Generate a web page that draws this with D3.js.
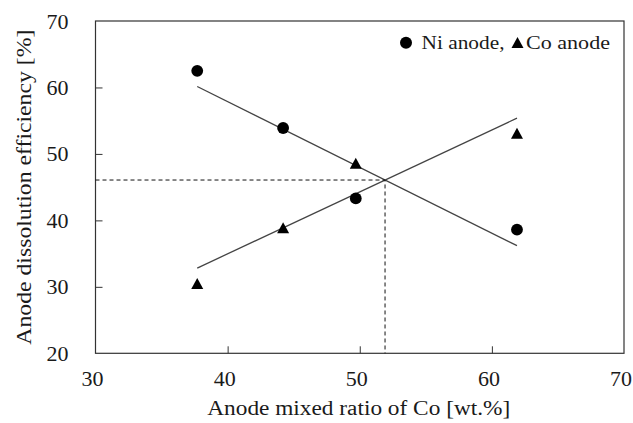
<!DOCTYPE html>
<html>
<head>
<meta charset="utf-8">
<script src="https://cdn.jsdelivr.net/npm/d3@7"></script>
<style>
  html, body { margin: 0; padding: 0; background: #fff; }
  svg { display: block; }
</style>
</head>
<body>
<div id="chart"></div>
<script>
// ---- data ----
const coRatio = [37.7, 44.2, 49.7, 61.9];          // Anode mixed ratio of Co [wt.%]
const niAnode = [62.5, 53.9, 43.3, 38.6];          // Ni anode dissolution efficiency [%]
const coAnode = [30.5, 38.9, 48.6, 53.1];          // Co anode dissolution efficiency [%]
const xTicks = [30, 40, 50, 60, 70];
const yTicks = [20, 30, 40, 50, 60, 70];
const xTitle = "Anode mixed ratio of Co [wt.%]";
const yTitle = "Anode dissolution efficiency [%]";
const legendLabels = ["Ni anode,", "Co anode"];

// ---- layout ----
const W = 633, H = 423;
const mLeft = 95.5, mRight = 624, mTop = 21, mBottom = 353.3;
const FONT = "Liberation Serif";
const INK = "#1a1a1a";

const svg = d3.select("#chart").append("svg").attr("width", W).attr("height", H);

const x = d3.scaleLinear().domain([30, 70]).range([mLeft, mRight]);
const y = d3.scaleLinear().domain([20, 70]).range([mBottom, mTop]);

// axes (ticks inward)
const gx = svg.append("g").attr("transform", `translate(0,${mBottom})`)
  .call(d3.axisBottom(x).tickValues(xTicks).tickSize(-7).tickPadding(17).tickFormat(d3.format("d")));
const gy = svg.append("g").attr("transform", `translate(${mLeft},0)`)
  .call(d3.axisLeft(y).tickValues(yTicks).tickSize(-7).tickPadding(27).tickFormat(d3.format("d")));
[gx, gy].forEach(g => {
  g.attr("font-family", null).attr("font-size", null);
  g.select(".domain").remove();
  g.selectAll(".tick line").attr("stroke", "#333").attr("stroke-width", 1);
  g.selectAll(".tick text").style("font-size", "22px").style("font-family", FONT).attr("fill", INK);
});
gx.selectAll(".tick text").attr("dx", -3.5);
gx.selectAll(".tick").filter(d => d === 30 || d === 70).select("line").remove();
gy.selectAll(".tick").filter(d => d === 20 || d === 70).select("line").remove();

// frame
svg.append("rect").attr("x", mLeft).attr("y", mTop)
  .attr("width", mRight - mLeft).attr("height", mBottom - mTop)
  .attr("fill", "none").attr("stroke", "#333").attr("stroke-width", 1.2);

// linear regression fits
function fit(xs, ys) {
  const mx = d3.mean(xs), my = d3.mean(ys);
  const sxy = d3.sum(xs, (v, i) => (v - mx) * (ys[i] - my));
  const sxx = d3.sum(xs, v => (v - mx) * (v - mx));
  const b = sxy / sxx, a = my - b * mx;
  return { a, b };
}
const fNi = fit(coRatio, niAnode);
const fCo = fit(coRatio, coAnode);
const xExt = d3.extent(coRatio);
const line = d3.line().x(d => x(d[0])).y(d => y(d[1]));
[fNi, fCo].forEach(f => {
  svg.append("path")
    .attr("d", line(xExt.map(v => [v, f.a + f.b * v])))
    .attr("fill", "none").attr("stroke", "#444").attr("stroke-width", 1.3);
});

// intersection and dashed guide lines
const xi = (fCo.a - fNi.a) / (fNi.b - fCo.b);
const yi = fNi.a + fNi.b * xi;
svg.append("path")
  .attr("d", line([[30, yi], [xi, yi], [xi, 20]]))
  .attr("fill", "none").attr("stroke", "#111").attr("stroke-width", 1)
  .attr("stroke-dasharray", "4,3");

// markers
const triPath = (w, h) => `M0,${-h / 2}L${w / 2},${h / 2}L${-w / 2},${h / 2}Z`;
svg.append("g").selectAll("circle").data(coRatio).join("circle")
  .attr("cx", d => x(d)).attr("cy", (d, i) => y(niAnode[i])).attr("r", 5.9).attr("fill", "#000");
svg.append("g").selectAll("path").data(coRatio).join("path")
  .attr("d", triPath(12, 11))
  .attr("transform", (d, i) => `translate(${x(d)},${y(coAnode[i])})`).attr("fill", "#000");

// legend
const lg = svg.append("g");
lg.append("circle").attr("cx", 406).attr("cy", 42.7).attr("r", 6).attr("fill", "#000");
lg.append("text").attr("x", 421.5).attr("y", 48.5)
  .style("font-family", FONT).style("font-size", "18px").attr("fill", INK)
  .attr("textLength", 83).attr("lengthAdjust", "spacingAndGlyphs").text(legendLabels[0]);
lg.append("path").attr("d", triPath(12, 11)).attr("transform", "translate(517.5,42.5)").attr("fill", "#000");
lg.append("text").attr("x", 526).attr("y", 48.5)
  .style("font-family", FONT).style("font-size", "18px").attr("fill", INK)
  .attr("textLength", 84).attr("lengthAdjust", "spacingAndGlyphs").text(legendLabels[1]);

// axis titles
svg.append("text").attr("x", (mLeft + mRight) / 2 - 1).attr("y", 415)
  .attr("text-anchor", "middle").style("font-family", FONT).style("font-size", "20px").attr("fill", INK)
  .attr("textLength", 303).attr("lengthAdjust", "spacingAndGlyphs").text(xTitle);
svg.append("text").attr("transform", `translate(31,${(mTop + mBottom) / 2}) rotate(-90)`)
  .attr("text-anchor", "middle").style("font-family", FONT).style("font-size", "20px").attr("fill", INK)
  .attr("textLength", 315).attr("lengthAdjust", "spacingAndGlyphs").text(yTitle);
</script>
</body>
</html>
